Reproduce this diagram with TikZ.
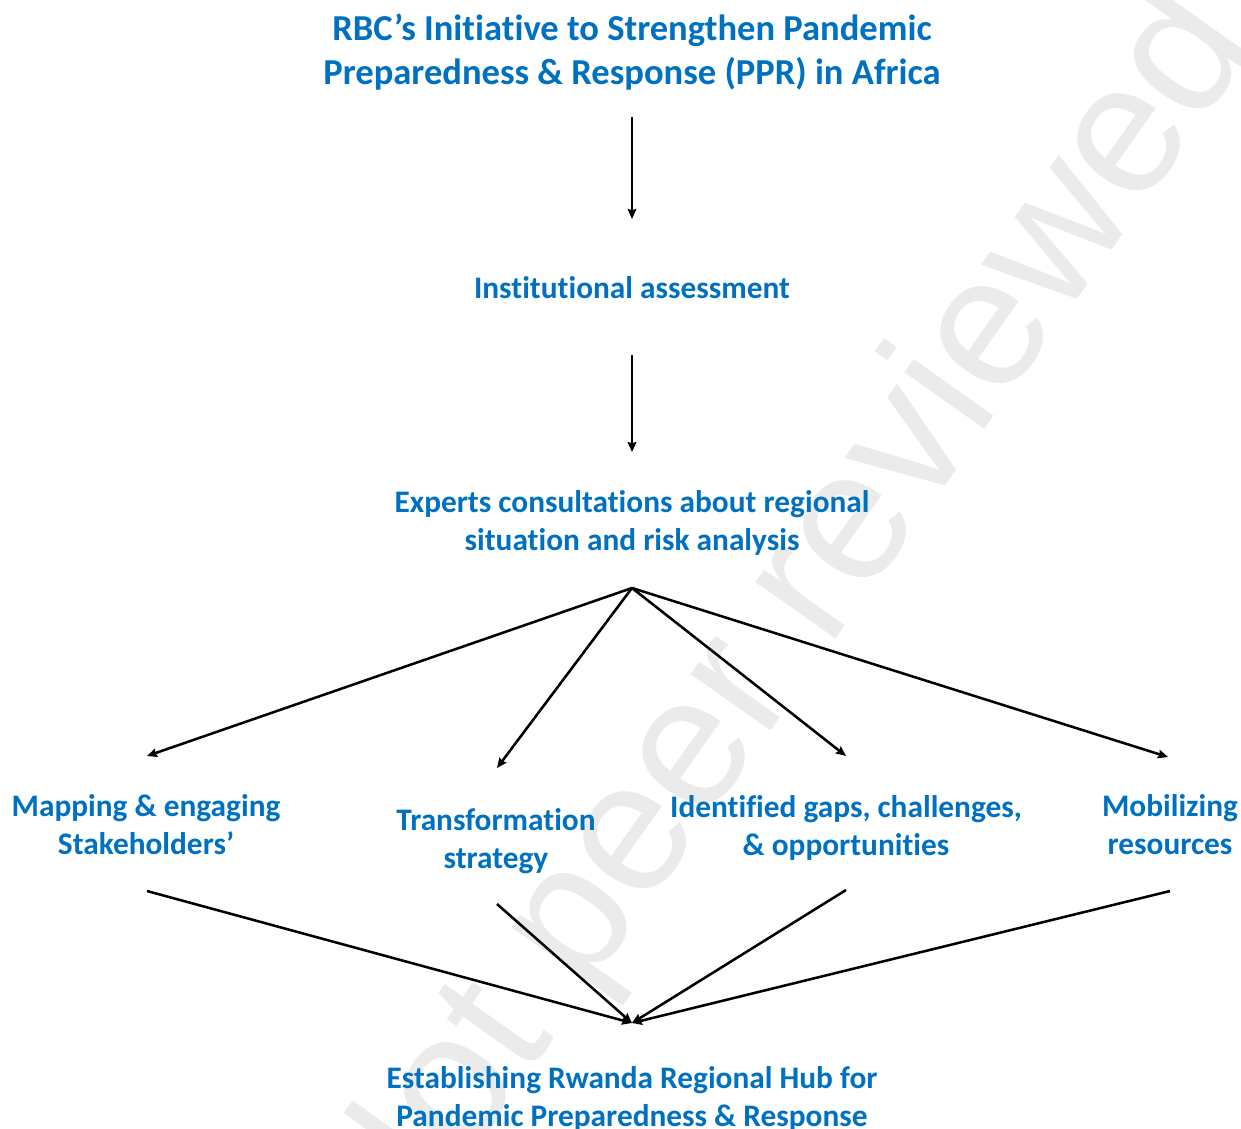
\documentclass[tikz,border=0pt]{standalone}
\usepackage{fontspec}
\setmainfont{Carlito}[RawFeature=-liga]
\setsansfont{Liberation Sans}
\usetikzlibrary{arrows.meta}
\definecolor{ppblue}{HTML}{0070C0}
\definecolor{wmgray}{HTML}{EBEBEB}
\begin{document}
\begin{tikzpicture}[x=0.75pt,y=-0.75pt,
  lbl/.style={text=ppblue,font=\bfseries\fontsize{23.5}{28.5}\selectfont,align=center,inner sep=0pt},
  ttl/.style={lbl,font=\bfseries\fontsize{27.4}{33}\selectfont},
  arr/.style={line width=1.9pt,-{Stealth[length=7.5pt,width=6.5pt,inset=1pt]}},
  wmark/.style={rotate=54.7,text=wmgray,font=\sffamily\fontsize{139}{139}\selectfont,inner sep=0pt}]
\useasboundingbox (0,0) rectangle (1241,1128);
\clip (0,0) rectangle (1241,1128);
\node[wmark] (wm) at (784,630) {Not peer reviewed};
% text nodes
\node[ttl] (title) at (632,52) {RBC’s Initiative to Strengthen Pandemic\\Preparedness \& Response (PPR) in Africa};
\node[lbl] (inst) at (632,288) {Institutional assessment};
\node[lbl] (exp) at (632,523) {Experts consultations about regional\\situation and risk analysis};
\node[lbl] (map) at (146,825) {Mapping \& engaging\\Stakeholders’};
\node[lbl] (trans) at (496,841) {Transformation\\strategy};
\node[lbl] (gaps) at (846,828) {Identified gaps, challenges,\\\& opportunities};
\node[lbl] (mob) at (1170,825) {Mobilizing\\resources};
\node[lbl] (hub) at (632,1099) {Establishing Rwanda Regional Hub for\\Pandemic Preparedness \& Response};
% connector end points
\coordinate (a1s) at (632,117);
\coordinate (a1e) at (632,219);
\coordinate (a2s) at (632,355);
\coordinate (a2e) at (632,452);
\coordinate (fan) at (632,588);
\coordinate (mapin) at (147,756);
\coordinate (transin) at (497,768);
\coordinate (gapsin) at (846,756);
\coordinate (mobin) at (1168,757);
\coordinate (mapout) at (147,891);
\coordinate (transout) at (497,904);
\coordinate (gapsout) at (846,890);
\coordinate (mobout) at (1170,891);
\coordinate (hubin) at (632,1023);
% connectors
\draw[arr] (a1s) -- (a1e);
\draw[arr] (a2s) -- (a2e);
\draw[arr] (fan) -- (mapin);
\draw[arr] (fan) -- (transin);
\draw[arr] (fan) -- (gapsin);
\draw[arr] (fan) -- (mobin);
\draw[arr] (mapout) -- (hubin);
\draw[arr] (transout) -- (hubin);
\draw[arr] (gapsout) -- (hubin);
\draw[arr] (mobout) -- (hubin);
\end{tikzpicture}
\end{document}
